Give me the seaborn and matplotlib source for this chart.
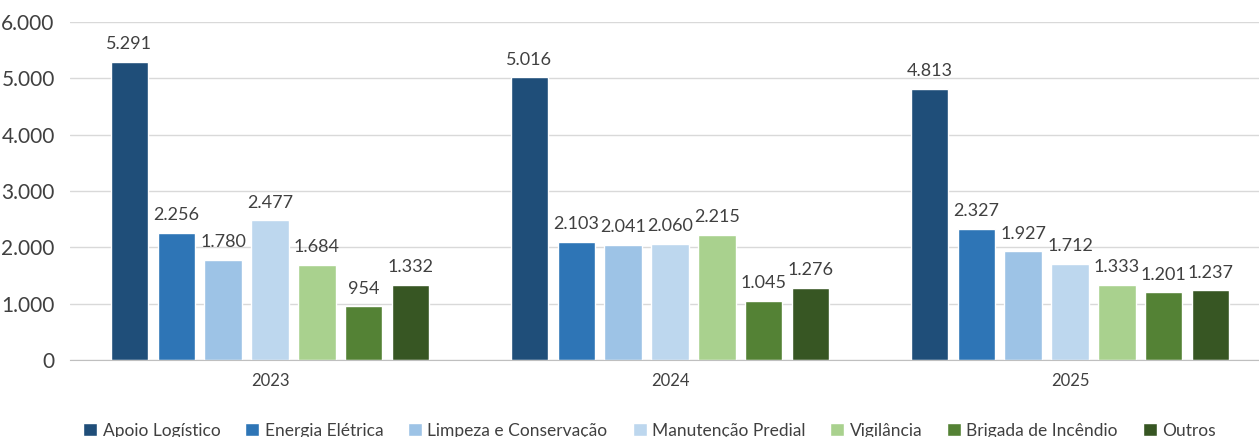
import pandas as pd
import seaborn as sns
import matplotlib.pyplot as plt

# Data
years = ['2023', '2024', '2025']
categories = ['Apoio Logístico', 'Energia Elétrica', 'Limpeza e Conservação',
              'Manutenção Predial', 'Vigilância', 'Brigada de Incêndio', 'Outros']
apoio = [5291, 5016, 4813]
energia = [2256, 2103, 2327]
limpeza = [1780, 2041, 1927]
manutencao = [2477, 2060, 1712]
vigilancia = [1684, 2215, 1333]
brigada = [954, 1045, 1201]
outros = [1332, 1276, 1237]
colors = ['#1F4E79', '#2E75B6', '#9DC3E6', '#BDD7EE', '#A9D18E', '#548235', '#375623']

series = [apoio, energia, limpeza, manutencao, vigilancia, brigada, outros]
rows = []
for cat, vals in zip(categories, series):
    for y, v in zip(years, vals):
        rows.append({'Ano': y, 'Categoria': cat, 'Valor': v})
df = pd.DataFrame(rows)

sns.set_style('white')
plt.rcParams['font.family'] = ['Lato', 'DejaVu Sans']
txt = '#404040'

fig = plt.figure(figsize=(12.59, 4.37), dpi=100)
ax = fig.add_axes([70 / 1259, 1 - 360 / 437, 1200 / 1259, 338 / 437])

sns.barplot(data=df, x='Ano', y='Valor', hue='Categoria', hue_order=categories,
            palette=colors, saturation=1, width=0.82, gap=0.2, ax=ax, legend=True)

for cont in ax.containers:
    ax.bar_label(cont, labels=[f'{int(v):,}'.replace(',', '.') for v in cont.datavalues],
                 padding=7, fontsize=13, color=txt)

ax.set_ylim(0, 6000)
ax.set_yticks(range(0, 6001, 1000))
ax.set_yticklabels([f'{v:,}'.replace(',', '.') for v in range(0, 6001, 1000)])
ax.grid(axis='y', color='#d9d9d9', linewidth=1)
ax.set_axisbelow(True)
for s in ['top', 'right', 'left']:
    ax.spines[s].set_visible(False)
ax.spines['bottom'].set_color('#bfbfbf')
ax.tick_params(axis='y', length=0, pad=11, labelsize=15, labelcolor=txt)
ax.tick_params(axis='x', length=0, pad=9, labelsize=12, labelcolor=txt)
ax.set_xlabel('')
ax.set_ylabel('')

handles, labels = ax.get_legend_handles_labels()
ax.legend(handles, labels, loc='lower center', bbox_to_anchor=(0.516, -0.04),
          bbox_transform=fig.transFigure, ncol=7, frameon=False, fontsize=12.5,
          handlelength=0.8, handleheight=0.8, handletextpad=0.3, columnspacing=1.45,
          labelcolor=txt)

fig.savefig('out.png', dpi=100)
